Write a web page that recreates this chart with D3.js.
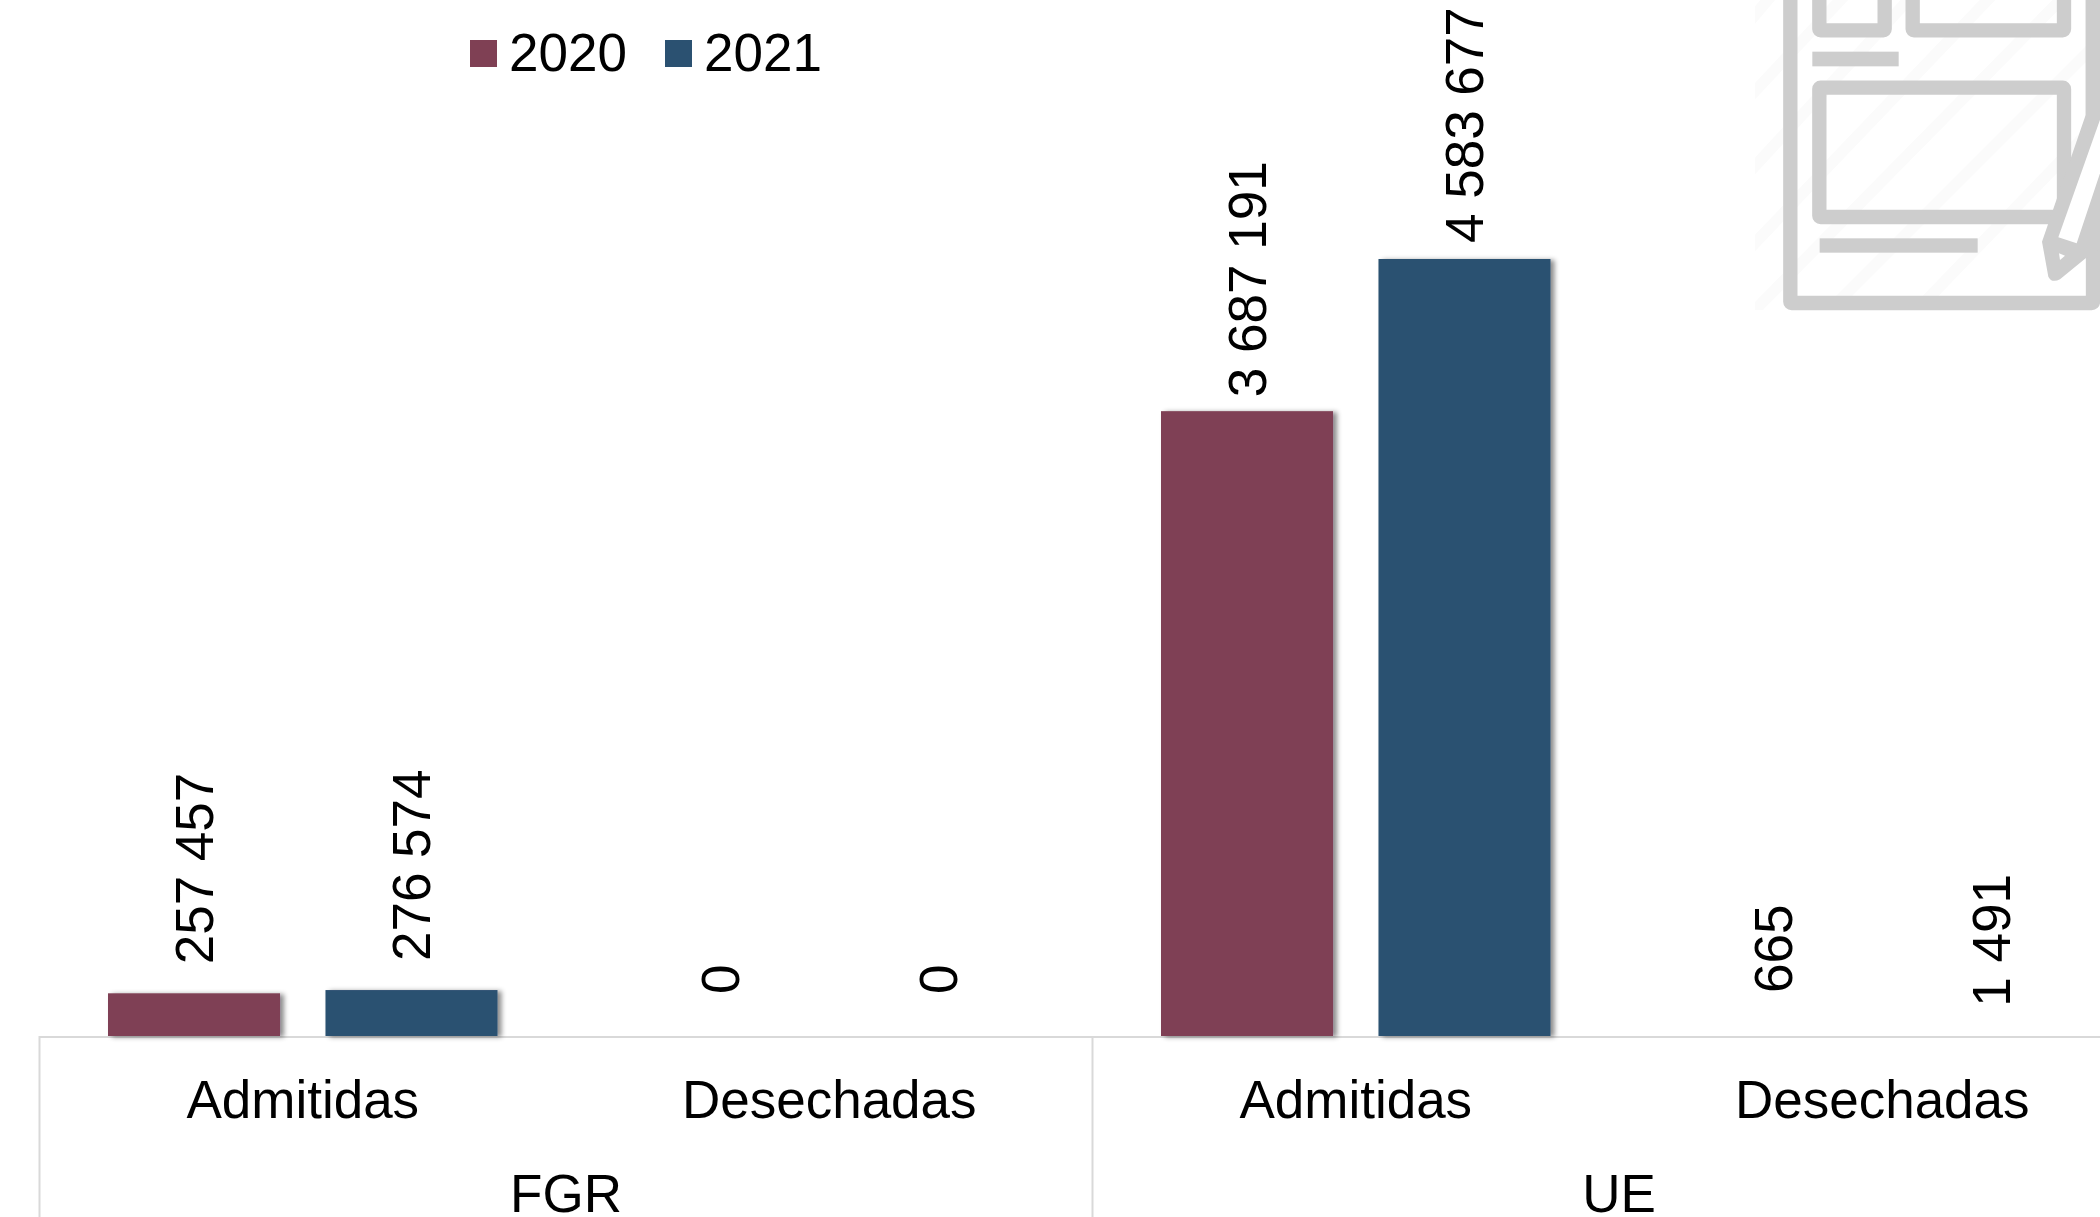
<!DOCTYPE html>
<html>
<head>
<meta charset="utf-8">
<script src="https://cdn.jsdelivr.net/npm/d3@7"></script>
<style>
  html, body { margin: 0; padding: 0; background: #fff; overflow: hidden; }
  text { font-family: "Liberation Sans", Arial, sans-serif; fill: #000; }
</style>
</head>
<body>
<div id="chart"></div>
<script>
const groups = ['FGR', 'UE'];
const categories = ['Admitidas', 'Desechadas', 'Admitidas', 'Desechadas'];
const years = ['2020', '2021'];
const values2020 = [257457, 0, 3687191, 665];
const values2021 = [276574, 0, 4583677, 1491];
const colors = ['#7f4054', '#2b5171'];

const width = 2100;
const height = 1217;
const fontSize = 53;
const base = 1036;

// Excel leaves a different gap under every rotated label
const gaps2020 = [29, 43, 14, 44];
const gaps2021 = [29, 43, 16, 30];

const svg = d3.select('#chart')
  .append('svg')
  .attr('width', width)
  .attr('height', height)
  .style('display', 'block');

const defs = svg.append('defs');
const filter = defs.append('filter')
  .attr('id', 'shadow')
  .attr('x', '-10%')
  .attr('y', '-10%')
  .attr('width', '125%')
  .attr('height', '130%');
filter.append('feDropShadow')
  .attr('dx', 4)
  .attr('dy', 1)
  .attr('stdDeviation', 2.5)
  .attr('flood-color', '#000')
  .attr('flood-opacity', 0.45);

defs.append('clipPath')
  .attr('id', 'stripes')
  .append('rect')
  .attr('x', 45).attr('y', 0)
  .attr('width', 1100).attr('height', 930);

// watermark icon, drawn in the 3x crop units
const icon = svg.append('g').attr('transform', 'translate(1740,0) scale(0.33333)');
const grey = '#cdcdcd';
const paper = '#ffffff';

const stripes = icon.append('g').attr('clip-path', 'url(#stripes)');
[[20, 75, 100, -20], [20, 300, 320, -20], [20, 525, 560, -60], [20, 755, 800, -60], [40, 935, 1020, -60], [300, 900, 1100, 100], [560, 900, 1100, 340]]
  .forEach(([x1, y1, x2, y2]) => {
    stripes.append('line')
      .attr('x1', x1).attr('y1', y1).attr('x2', x2).attr('y2', y2)
      .attr('stroke', '#fbfbfb').attr('stroke-width', 34);
  });

const outline = (x, y, w, h) => icon.append('rect')
  .attr('x', x + 21).attr('y', y + 21)
  .attr('width', w - 42).attr('height', h - 42)
  .attr('rx', 4)
  .attr('fill', 'none')
  .attr('stroke', grey)
  .attr('stroke-width', 43)
  .attr('stroke-linejoin', 'round');

outline(130, -200, 950, 1130);
outline(217, -60, 238, 172);
outline(497, -60, 496, 172);
outline(217, 242, 776, 430);

icon.append('rect').attr('x', 217).attr('y', 155).attr('width', 259).attr('height', 44).attr('fill', grey);
icon.append('rect').attr('x', 239).attr('y', 715).attr('width', 474).attr('height', 43).attr('fill', grey);

// pen over the page
icon.append('path')
  .attr('d', 'M1037,345 L1037,0 L1085,0 L1085,745 L1037,775 L960,838 Q935,850 925,830 L906,725 Z')
  .attr('fill', grey);
icon.append('path')
  .attr('d', 'M1085,345 L1085,505 L1010,730 L955,712 Z')
  .attr('fill', paper);
icon.append('path')
  .attr('d', 'M957,760 L975,767 L960,780 Z')
  .attr('fill', paper);

const x0 = 39.5;
const bandWidth = 526.5;
const x = d3.scaleBand()
  .domain(d3.range(categories.length))
  .range([x0, x0 + bandWidth * categories.length]);

const xInner = d3.scaleBand()
  .domain(years)
  .range([68.5, 458])
  .paddingInner(0.209);

const y = d3.scaleLinear()
  .domain([0, 4583677])
  .range([base + 1, 259]);

const fmt = d3.formatLocale({ decimal: '.', thousands: ' ', grouping: [3], currency: ['', ''] }).format(',d');

const series = [values2020, values2021];
const gaps = [gaps2020, gaps2021];

// axis line and group separators
svg.append('line')
  .attr('x1', x0).attr('x2', width)
  .attr('y1', base + 1).attr('y2', base + 1)
  .attr('stroke', '#d9d9d9')
  .attr('stroke-width', 2);

groups.forEach((g, i) => {
  const left = x(i * 2);
  svg.append('line')
    .attr('x1', left).attr('x2', left)
    .attr('y1', base).attr('y2', height)
    .attr('stroke', '#d9d9d9')
    .attr('stroke-width', 2);
  svg.append('text')
    .attr('x', left + bandWidth)
    .attr('y', 1212)
    .attr('text-anchor', 'middle')
    .style('font-size', `${fontSize}px`)
    .text(g);
});

const axis = svg.append('g')
  .attr('transform', `translate(0, ${base})`)
  .call(d3.axisBottom(x).tickSize(0).tickPadding(0).tickFormat(i => categories[i]));
axis.select('.domain').remove();
axis.selectAll('text')
  .attr('y', 82)
  .attr('dy', 0)
  .attr('fill', '#000')
  .style('font-size', `${fontSize}px`)
  .style('font-family', '"Liberation Sans", Arial, sans-serif');

years.forEach((year, s) => {
  const g = svg.append('g');

  g.selectAll('rect')
    .data(series[s].map((v, i) => ({ v, i })).filter(d => d.v > 0))
    .enter()
    .append('rect')
    .attr('x', d => x(d.i) + xInner(year))
    .attr('y', d => y(d.v))
    .attr('width', xInner.bandwidth())
    .attr('height', d => Math.max(0, base - y(d.v)))
    .attr('fill', colors[s])
    .attr('filter', d => (base - y(d.v) > 1 ? 'url(#shadow)' : null));

  g.selectAll('text')
    .data(series[s].map((v, i) => ({ v, i })))
    .enter()
    .append('text')
    .attr('transform', (d) => {
      const cx = x(d.i) + xInner(year) + xInner.bandwidth() / 2;
      return `translate(${cx + fontSize * 0.358}, ${y(d.v) - gaps[s][d.i]}) rotate(-90)`;
    })
    .style('font-size', `${fontSize}px`)
    .text(d => fmt(d.v));
});

// legend
const legendX = [470, 665];
years.forEach((year, s) => {
  svg.append('rect')
    .attr('x', legendX[s]).attr('y', 40)
    .attr('width', 27).attr('height', 27)
    .attr('fill', colors[s]);
  svg.append('text')
    .attr('x', legendX[s] + 39)
    .attr('y', 71)
    .style('font-size', `${fontSize}px`)
    .text(year);
});
</script>
</body>
</html>
